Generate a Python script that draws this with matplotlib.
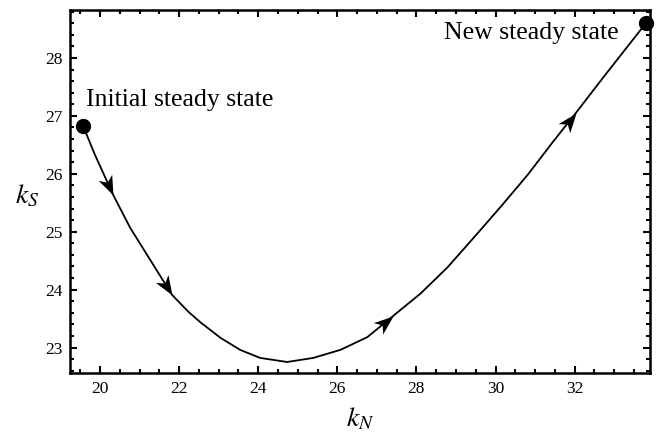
import matplotlib
matplotlib.use("Agg")
import numpy as np
import matplotlib.pyplot as plt
from matplotlib.markers import MarkerStyle
from matplotlib.path import Path
from matplotlib.transforms import Affine2D
from matplotlib.ticker import MultipleLocator

# path of (k_N, k_S)
k_n = [19.57, 19.87, 20.33, 20.76, 21.19, 21.82, 22.23, 22.53, 23.04,
       23.54, 24.05, 24.73, 25.39, 26.08, 26.76, 27.42, 28.10, 28.78,
       29.44, 30.13, 30.81, 31.45, 32.03, 32.73, 33.80]
k_s = [26.83, 26.33, 25.64, 25.07, 24.60, 23.91, 23.62, 23.44, 23.17,
       22.96, 22.82, 22.75, 22.82, 22.96, 23.18, 23.55, 23.93, 24.38,
       24.89, 25.43, 25.98, 26.55, 27.05, 27.67, 28.60]

# indices of points where an arrowhead sits (tip)
arrow_idx = [2, 5, 15, 22]

start_label = "Initial steady state"
end_label = "New steady state"


def stealth(angle):
    # arrowhead with its tip at the origin, pointing along +x
    verts = [(0, 0), (-1, 0.38), (-0.72, 0), (-1, -0.38), (0, 0)]
    codes = [Path.MOVETO, Path.LINETO, Path.LINETO, Path.LINETO, Path.CLOSEPOLY]
    return MarkerStyle(Path(verts, codes), transform=Affine2D().rotate(angle))


def main():
    plt.rcParams['font.family'] = ['Liberation Serif', 'DejaVu Serif']
    plt.rcParams['mathtext.fontset'] = 'stix'

    fig = plt.figure(figsize=(6.57, 4.32), dpi=100)
    ax = fig.add_axes([0.1065, 0.1366, 0.8825, 0.8404])

    ax.set_xlim(19.24, 33.9)
    ax.set_ylim(22.56, 28.83)

    ax.plot(k_n, k_s, color='k', lw=1.3)

    for i in arrow_idx:
        p0 = ax.transData.transform((k_n[i - 1], k_s[i - 1]))
        p1 = ax.transData.transform((k_n[i], k_s[i]))
        ang = np.arctan2(p1[1] - p0[1], p1[0] - p0[0])
        ax.plot(k_n[i], k_s[i], marker=stealth(ang), markersize=28,
                color='k', markeredgewidth=0, zorder=4)

    ax.plot([k_n[0], k_n[-1]], [k_s[0], k_s[-1]], 'o', color='k',
            markersize=10, clip_on=False, zorder=5)

    ax.text(19.65, 27.27, start_label, fontsize=18.5, ha='left', va='center')
    ax.text(33.11, 28.43, end_label, fontsize=18.5, ha='right', va='center')

    ax.xaxis.set_major_locator(MultipleLocator(2))
    ax.xaxis.set_minor_locator(MultipleLocator(0.5))
    ax.yaxis.set_major_locator(MultipleLocator(1))
    ax.yaxis.set_minor_locator(MultipleLocator(0.2))

    ax.tick_params(which='both', direction='in', top=True, right=True,
                   labelsize=12.5, width=1.5)
    ax.tick_params(which='major', length=5)
    ax.tick_params(which='minor', length=3)
    ax.tick_params(axis='x', pad=6)
    ax.tick_params(axis='y', pad=5)
    for sp in ax.spines.values():
        sp.set_linewidth(1.8)

    ax.set_xlabel('$k_N$', fontsize=20)
    ax.set_ylabel('$k_S$', fontsize=20, rotation=0)
    ax.xaxis.set_label_coords(0.5, -0.09)
    ax.yaxis.set_label_coords(-0.074, 0.45)

    fig.savefig('out.png', dpi=100)


if __name__ == "__main__":
    main()
